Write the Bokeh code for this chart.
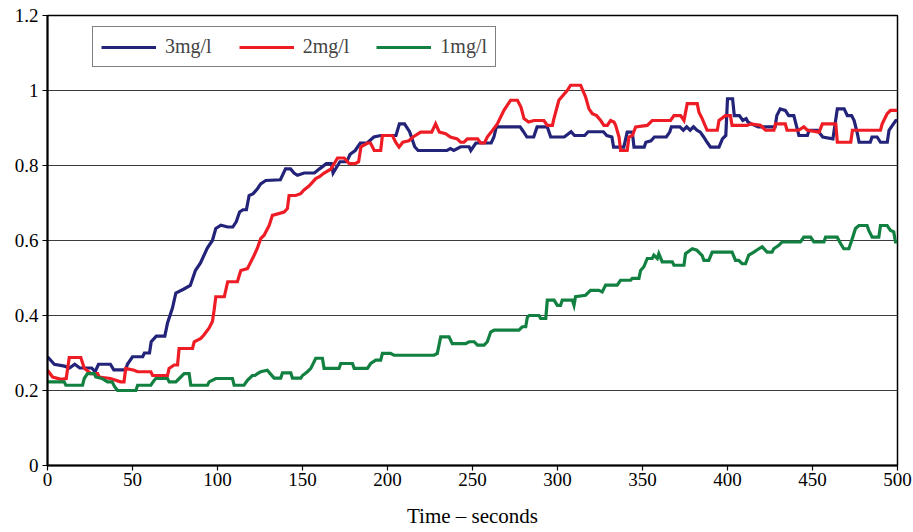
from bokeh.plotting import figure
from bokeh.models import Range1d, FixedTicker, Legend, LegendItem
from bokeh.embed import file_html
from bokeh.resources import INLINE

# Time (s) and response for each dose
t_3mg = [0, 2, 4, 10, 13, 16, 19, 26, 28, 30, 37, 39, 46, 47, 50, 56, 57, 60, 61, 64, 69, 70.6, 73.5, 75.5,
         80, 84, 87, 90, 94, 97, 99, 102, 106, 109, 111, 113, 115, 117, 118.6, 121, 123.5, 125.4, 128.4, 137,
         140, 143, 145, 147, 151, 157, 160, 164, 167, 168, 172, 176, 178, 181, 184, 188, 192, 196, 205, 207,
         210, 213, 216, 218, 235, 237, 239, 243, 248, 249, 252, 261, 262.6, 264, 278, 280, 282, 286, 288, 294,
         296, 304, 308, 310, 316, 318, 327, 329, 332, 333, 339, 341, 344, 345, 351, 352, 355, 357, 364, 366,
         367, 372, 374, 376, 378, 380, 382, 384, 386, 388, 390, 395, 397, 399, 400, 403, 404, 407, 409, 411,
         412, 414, 418, 428, 429, 431, 434, 436, 439, 442, 447, 448, 453, 456, 462, 464.6, 468.6, 470.5, 473,
         474.5, 476.4, 477.4, 484, 485, 488, 490, 494, 495, 497, 499, 500]
v_3mg = [0.29, 0.28, 0.27, 0.265, 0.26, 0.27, 0.26, 0.26, 0.25, 0.27, 0.27, 0.255, 0.255, 0.27, 0.29, 0.29,
         0.30, 0.30, 0.33, 0.345, 0.345, 0.38, 0.42, 0.46, 0.47, 0.48, 0.52, 0.54, 0.58, 0.60, 0.632, 0.641,
         0.636, 0.636, 0.65, 0.676, 0.682, 0.682, 0.72, 0.725, 0.738, 0.751, 0.76, 0.762, 0.791, 0.791, 0.78,
         0.774, 0.78, 0.78, 0.791, 0.805, 0.805, 0.78, 0.81, 0.81, 0.83, 0.84, 0.86, 0.86, 0.876, 0.88, 0.88,
         0.911, 0.911, 0.89, 0.85, 0.84, 0.84, 0.845, 0.84, 0.85, 0.85, 0.84, 0.86, 0.86, 0.876, 0.903, 0.903,
         0.89, 0.876, 0.876, 0.903, 0.903, 0.876, 0.876, 0.89, 0.88, 0.88, 0.89, 0.89, 0.88, 0.876, 0.849,
         0.849, 0.889, 0.889, 0.849, 0.849, 0.862, 0.866, 0.876, 0.876, 0.889, 0.903, 0.903, 0.894, 0.903,
         0.894, 0.903, 0.894, 0.889, 0.876, 0.862, 0.849, 0.849, 0.871, 0.88, 0.978, 0.978, 0.933, 0.933,
         0.92, 0.925, 0.916, 0.911, 0.903, 0.903, 0.933, 0.951, 0.947, 0.933, 0.933, 0.88, 0.88, 0.894, 0.894,
         0.876, 0.871, 0.951, 0.951, 0.933, 0.933, 0.92, 0.885, 0.862, 0.862, 0.876, 0.876, 0.862, 0.862,
         0.894, 0.907, 0.92, 0.92]

t_2mg = [0, 3, 8, 11, 12.8, 19.6, 21.6, 25.5, 29.5, 30.4, 37, 43, 45, 46, 51, 53, 60.8, 61.8, 70.6, 71.5,
         74.5, 76.5, 77.4, 85.3, 86.3, 90.2, 92, 95, 97, 98, 99, 104, 106, 111.7, 113.7, 117.6, 119.6, 121.5,
         123.5, 125.4, 127.4, 130.4, 132.3, 139.2, 141.1, 142.1, 146, 148.9, 150.9, 153.8, 155.8, 157.8, 160,
         162.7, 166.6, 170.6, 174.5, 177.5, 181, 183, 184.4, 188.3, 190, 192.2, 196, 197, 202.9, 204.8, 206.8,
         209, 212.6, 215, 219.5, 226, 228.3, 230.5, 234.2, 237, 241, 243, 245, 247, 253, 254.8, 257, 258.7,
         261, 264.6, 268.5, 272.4, 276.4, 278.5, 280.3, 283, 286.2, 292, 294, 297, 297.9, 300.8, 305.7, 307.7,
         313.6, 316.5, 318.5, 320.5, 323, 325.4, 327.3, 329.3, 331.2, 333.2, 334.2, 336.2, 337.1, 341, 342,
         344, 346, 352.8, 355.7, 366.5, 368.5, 372.4, 374.4, 376.3, 382.2, 383.2, 385.1, 388, 394, 395, 398.8,
         401.7, 402.7, 411.6, 413.6, 419.4, 422.4, 427.3, 428.2, 434, 435, 441.8, 444.9, 447, 453.9, 455.8,
         463.7, 464.6, 472.5, 473.5, 490, 491, 493.9, 495.9, 500]
v_2mg = [0.254, 0.236, 0.23, 0.232, 0.288, 0.288, 0.26, 0.245, 0.245, 0.236, 0.232, 0.223, 0.223, 0.259,
         0.254, 0.25, 0.25, 0.24, 0.24, 0.259, 0.268, 0.268, 0.312, 0.312, 0.33, 0.339, 0.348, 0.366, 0.384,
         0.414, 0.45, 0.45, 0.49, 0.49, 0.52, 0.525, 0.543, 0.56, 0.58, 0.605, 0.614, 0.64, 0.667, 0.676,
         0.685, 0.72, 0.72, 0.725, 0.735, 0.745, 0.755, 0.765, 0.77, 0.78, 0.79, 0.82, 0.82, 0.805, 0.805,
         0.81, 0.85, 0.86, 0.86, 0.84, 0.84, 0.88, 0.88, 0.862, 0.849, 0.862, 0.866, 0.876, 0.889, 0.889,
         0.911, 0.889, 0.885, 0.876, 0.871, 0.862, 0.862, 0.871, 0.871, 0.86, 0.86, 0.876, 0.889, 0.911,
         0.947, 0.974, 0.974, 0.956, 0.925, 0.916, 0.92, 0.92, 0.907, 0.907, 0.925, 0.974, 1.0, 1.014, 1.014,
         0.983, 0.951, 0.938, 0.933, 0.92, 0.907, 0.907, 0.92, 0.916, 0.907, 0.876, 0.84, 0.84, 0.876, 0.88,
         0.903, 0.907, 0.92, 0.92, 0.933, 0.933, 0.92, 0.965, 0.965, 0.942, 0.925, 0.894, 0.894, 0.92, 0.933,
         0.933, 0.907, 0.907, 0.911, 0.907, 0.894, 0.894, 0.911, 0.911, 0.894, 0.894, 0.903, 0.894, 0.889,
         0.911, 0.911, 0.862, 0.862, 0.894, 0.894, 0.911, 0.938, 0.947, 0.947]

t_1mg = [0, 9.8, 10.8, 20.6, 21.6, 23.5, 27.5, 28.4, 32, 35.3, 38, 39.5, 41.2, 52, 53, 60.8, 62.7, 63.7,
         70.6, 71.6, 75.5, 78.4, 80.4, 83.3, 84.3, 94.1, 95.1, 99, 108.8, 109.8, 115.6, 117.6, 120.5, 122,
         123.5, 125.4, 129.3, 131, 133.3, 137.2, 138.2, 143.1, 144.1, 149, 150, 152.9, 154.9, 157.8, 161.7,
         162.7, 171.5, 172.5, 179.4, 180.4, 188.2, 190.1, 193.1, 196, 197, 201.8, 203.8, 227.4, 229.3, 231.3,
         236.2, 238.1, 246, 248, 251, 252.9, 256.8, 258.7, 260.7, 262.7, 277.3, 279.3, 281.3, 282.3, 283.3,
         289.1, 290.1, 293.1, 294, 298, 299.9, 301.8, 302.8, 308.7, 309.7, 310.6, 316.5, 318.5, 319.4, 324.3,
         326.3, 328.3, 335.1, 337.1, 343, 344, 347.9, 348.9, 350.8, 352.8, 355.7, 356.7, 358.7, 359.6, 361.6,
         367.5, 368.5, 374.4, 375.3, 379.3, 382, 385.1, 386.1, 389, 391, 402.7, 404.7, 406.6, 408.6, 410.6,
         412.5, 415.5, 418.4, 420.4, 423.3, 426.2, 427.2, 430.2, 432.1, 442.9, 444.9, 448.9, 450.8, 456.7,
         457.7, 464.5, 466.5, 468.4, 471.4, 473.4, 475.3, 477.3, 482.1, 483.1, 485.1, 489, 490, 493.9, 495.9,
         497.8, 498.8, 500]
v_1mg = [0.223, 0.223, 0.214, 0.214, 0.232, 0.245, 0.245, 0.236, 0.232, 0.223, 0.223, 0.21, 0.2, 0.2,
         0.214, 0.214, 0.227, 0.232, 0.232, 0.223, 0.223, 0.236, 0.245, 0.245, 0.214, 0.214, 0.223, 0.232,
         0.232, 0.214, 0.214, 0.227, 0.24, 0.24, 0.245, 0.25, 0.254, 0.245, 0.233, 0.233, 0.247, 0.247, 0.233,
         0.233, 0.24, 0.25, 0.259, 0.286, 0.286, 0.259, 0.259, 0.272, 0.272, 0.259, 0.259, 0.272, 0.281,
         0.281, 0.299, 0.299, 0.294, 0.294, 0.299, 0.343, 0.343, 0.325, 0.325, 0.33, 0.33, 0.321, 0.321,
         0.33, 0.356, 0.361, 0.361, 0.37, 0.37, 0.396, 0.4, 0.4, 0.392, 0.392, 0.441, 0.441, 0.427, 0.427,
         0.441, 0.441, 0.427, 0.45, 0.454, 0.463, 0.467, 0.467, 0.463, 0.481, 0.481, 0.494, 0.494, 0.499,
         0.499, 0.52, 0.53, 0.552, 0.552, 0.561, 0.552, 0.565, 0.543, 0.543, 0.534, 0.534, 0.565, 0.578,
         0.574, 0.56, 0.547, 0.547, 0.569, 0.569, 0.547, 0.547, 0.538, 0.538, 0.561, 0.569, 0.578, 0.583,
         0.569, 0.569, 0.578, 0.587, 0.596, 0.596, 0.609, 0.609, 0.596, 0.596, 0.609, 0.609, 0.592, 0.578,
         0.578, 0.605, 0.632, 0.64, 0.64, 0.627, 0.609, 0.609, 0.64, 0.64, 0.627, 0.623, 0.596, 0.596]

series_names = ["3mg/l", "2mg/l", "1mg/l"]
series_colors = ["#232379", "#ee1d25", "#128040"]

x_ticks = [0, 50, 100, 150, 200, 250, 300, 350, 400, 450, 500]
y_ticks = [0, 0.2, 0.4, 0.6, 0.8, 1, 1.2]

FONT = "Liberation Serif"

p = figure(width=913, height=532, output_backend="svg", toolbar_location=None,
           x_range=Range1d(0, 500), y_range=Range1d(0, 1.2),
           min_border_left=47, min_border_right=16, min_border_top=15, min_border_bottom=67)
p.background_fill_color = "white"
p.border_fill_color = "white"
p.outline_line_color = "black"
p.outline_line_width = 1.5

renderers = []
for xs, ys, c in [(t_3mg, v_3mg, series_colors[0]), (t_2mg, v_2mg, series_colors[1]),
                  (t_1mg, v_1mg, series_colors[2])]:
    r = p.line(xs, ys, line_color=c, line_width=3.2, line_join="miter")
    renderers.append(r)

p.xaxis.ticker = FixedTicker(ticks=x_ticks)
p.yaxis.ticker = FixedTicker(ticks=y_ticks)
p.yaxis.major_label_overrides = {0: "0", 1: "1", 0.2: "0.2", 0.4: "0.4", 0.6: "0.6", 0.8: "0.8", 1.2: "1.2"}
p.xgrid.visible = False
p.ygrid.grid_line_color = "#3c3c3c"
p.ygrid.grid_line_width = 1.2

for ax in (p.xaxis, p.yaxis):
    ax.axis_line_color = "black"
    ax.axis_line_width = 2
    ax.major_tick_line_color = "black"
    ax.major_tick_line_width = 1.2
    ax.major_tick_in = 0
    ax.major_tick_out = 5
    ax.minor_tick_line_color = None
    ax.major_label_text_font = FONT
    ax.major_label_text_font_size = "19px"
    ax.major_label_text_color = "black"

p.yaxis.major_label_standoff = 4
p.xaxis.major_label_standoff = 2
p.xaxis.axis_label = "Time \u2013 seconds"
p.xaxis.axis_label_text_font = FONT
p.xaxis.axis_label_text_font_size = "21px"
p.xaxis.axis_label_text_font_style = "normal"
p.xaxis.axis_label_text_color = "black"
p.xaxis.axis_label_standoff = 15

legend = Legend(items=[LegendItem(label=n, renderers=[r]) for n, r in zip(series_names, renderers)],
                orientation="horizontal", location=(45, 398),
                label_text_font=FONT, label_text_font_size="20px",
                glyph_width=55, glyph_height=20, label_standoff=9, spacing=27,
                padding=8, margin=0, border_line_color="black", border_line_width=1.2,
                background_fill_color="white", background_fill_alpha=1)
p.add_layout(legend)

open("out.html", "w").write(file_html(p, INLINE))
